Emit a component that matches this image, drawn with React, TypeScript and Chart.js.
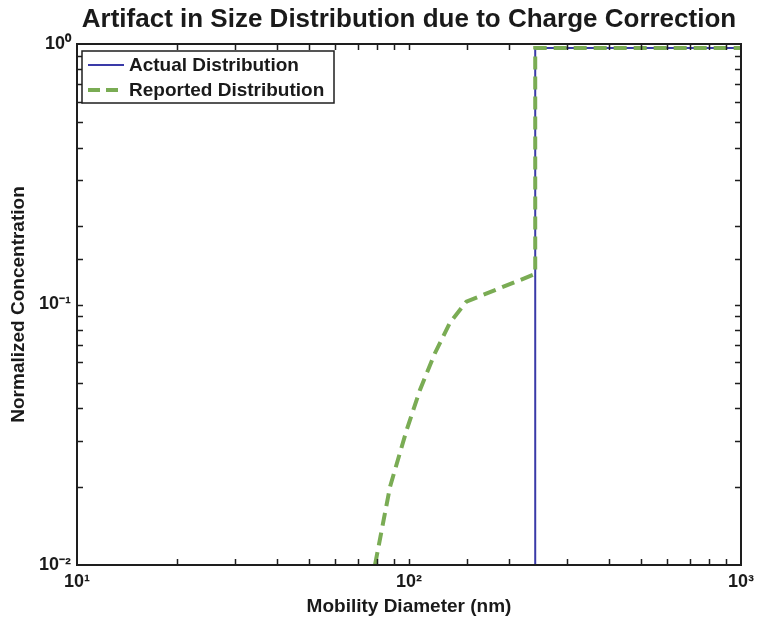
import React, { useEffect, useRef } from "react";
import { Chart, registerables } from "chart.js";

Chart.register(...registerables);

const titleText = "Artifact in Size Distribution due to Charge Correction";
const xLabel = "Mobility Diameter (nm)";
const yLabel = "Normalized Concentration";
const seriesNames = ["Actual Distribution", "Reported Distribution"];

const actualX = [240, 240, 1000];
const actualY = [0.01, 0.965, 0.965];

const reportedX = [79, 87.7, 98.4, 107.9, 119.7, 132.8, 148.9, 240, 240, 1000];
const reportedY = [0.01, 0.02, 0.033, 0.047, 0.065, 0.085, 0.1026, 0.131, 0.965, 0.965];

const xMin = 10;
const xMax = 1000;
const yMin = 0.01;
const yMax = 1;

const SUP: Record<string, string> = {
  "0": "\u2070", "1": "\u00B9", "2": "\u00B2", "3": "\u00B3", "4": "\u2074",
  "5": "\u2075", "6": "\u2076", "7": "\u2077", "8": "\u2078", "9": "\u2079", "-": "\u207B",
};
const sup = (n: number) => String(n).split("").map((c) => SUP[c] || c).join("");
const decadeLabel = (v: number) => {
  const l = Math.log10(v);
  return Math.abs(l - Math.round(l)) < 1e-6 ? "10" + sup(Math.round(l)) : "";
};

const FONT = "'Liberation Sans', Arial, Helvetica, sans-serif";
const BLUE = "rgb(58,58,168)";
const GREEN = "rgb(122,172,84)";

const framePlugin = {
  id: "frame",
  afterDatasetsDraw(chart: any) {
    const { ctx, chartArea: a, scales } = chart;
    ctx.save();
    ctx.strokeStyle = "#1e1e1e";
    ctx.lineWidth = 1.5;
    const tl = 6;
    ctx.beginPath();
    scales.x.ticks.forEach((t: any) => {
      const px = Math.round(scales.x.getPixelForValue(t.value)) + 0.5;
      if (px <= a.left + 1 || px >= a.right - 1) return;
      ctx.moveTo(px, a.bottom);
      ctx.lineTo(px, a.bottom - tl);
      ctx.moveTo(px, a.top);
      ctx.lineTo(px, a.top + tl);
    });
    scales.y.ticks.forEach((t: any) => {
      const py = Math.round(scales.y.getPixelForValue(t.value)) + 0.5;
      if (py <= a.top + 1 || py >= a.bottom - 1) return;
      ctx.moveTo(a.left, py);
      ctx.lineTo(a.left + tl, py);
      ctx.moveTo(a.right, py);
      ctx.lineTo(a.right - tl, py);
    });
    ctx.stroke();
    ctx.lineWidth = 2;
    ctx.strokeRect(a.left, a.top, a.right - a.left, a.bottom - a.top);
    ctx.restore();
  },
};

const legendPlugin = {
  id: "boxLegend",
  afterDraw(chart: any) {
    const { ctx, chartArea: a } = chart;
    const x0 = a.left + 5;
    const y0 = a.top + 7;
    const w = 252;
    const h = 52;
    ctx.save();
    ctx.fillStyle = "#fff";
    ctx.fillRect(x0, y0, w, h);
    ctx.strokeStyle = "#1e1e1e";
    ctx.lineWidth = 1.5;
    ctx.strokeRect(x0, y0, w, h);
    const rows = [
      { name: seriesNames[0], color: BLUE, width: 2, dash: [] as number[] },
      { name: seriesNames[1], color: GREEN, width: 4, dash: [12, 6] },
    ];
    rows.forEach((r, i) => {
      const cy = y0 + 14 + i * 25;
      ctx.strokeStyle = r.color;
      ctx.lineWidth = r.width;
      ctx.setLineDash(r.dash);
      ctx.beginPath();
      ctx.moveTo(x0 + 6, cy);
      ctx.lineTo(x0 + 42, cy);
      ctx.stroke();
      ctx.setLineDash([]);
      ctx.fillStyle = "#1a1a1a";
      ctx.font = `bold 19px ${FONT}`;
      ctx.textBaseline = "middle";
      ctx.textAlign = "left";
      ctx.fillText(r.name, x0 + 47, cy + 1);
    });
    ctx.restore();
  },
};

export default function App() {
  const ref = useRef<HTMLCanvasElement>(null);
  useEffect(() => {
    if (!ref.current) return;
    const chart = new Chart(ref.current, {
      type: "line",
      data: {
        datasets: [
          {
            label: seriesNames[0],
            data: actualX.map((x, i) => ({ x, y: actualY[i] })),
            borderColor: BLUE,
            borderWidth: 2,
            pointRadius: 0,
            tension: 0,
            fill: false,
            order: 1,
          },
          {
            label: seriesNames[1],
            data: reportedX.map((x, i) => ({ x, y: reportedY[i] })),
            borderColor: GREEN,
            borderWidth: 4,
            borderDash: [13, 7],
            pointRadius: 0,
            tension: 0,
            fill: false,
            order: 0,
          },
        ],
      },
      options: {
        animation: false,
        responsive: false,
        devicePixelRatio: 1,
        layout: { padding: { left: 0, right: 17, top: 0, bottom: 0 } },
        plugins: {
          legend: { display: false },
          tooltip: { enabled: false },
          title: {
            display: true,
            text: titleText,
            fullSize: false,
            color: "#1a1a1a",
            font: { family: FONT, size: 26, weight: "bold", lineHeight: 1.2 },
            padding: { top: 4.4, bottom: 8.4 },
          },
        },
        scales: {
          x: {
            type: "logarithmic",
            min: xMin,
            max: xMax,
            afterFit: (s: any) => { s.height = 57; },
            grid: { display: true, drawOnChartArea: false, drawTicks: false },
            border: { display: false },
            ticks: {
              autoSkip: false,
              maxRotation: 0,
              padding: 6,
              color: "#1a1a1a",
              font: { family: FONT, size: 18, weight: "bold" },
              callback: (v: any) => decadeLabel(Number(v)),
            },
            title: {
              display: true,
              text: xLabel,
              color: "#1a1a1a",
              font: { family: FONT, size: 19, weight: "bold", lineHeight: 1.2 },
              padding: { top: 0, bottom: 3.6 },
            },
          },
          y: {
            type: "logarithmic",
            min: yMin,
            max: yMax,
            afterFit: (s: any) => { s.width = 77; },
            grid: { display: true, drawOnChartArea: false, drawTicks: false },
            border: { display: false },
            ticks: {
              autoSkip: false,
              padding: 6,
              color: "#1a1a1a",
              font: { family: FONT, size: 18, weight: "bold" },
              callback: (v: any) => decadeLabel(Number(v)),
            },
            title: {
              display: true,
              text: yLabel,
              color: "#1a1a1a",
              font: { family: FONT, size: 19, weight: "bold", lineHeight: 1.2 },
              padding: { top: 7.6, bottom: 0 },
            },
          },
        },
      },
      plugins: [framePlugin, legendPlugin],
    } as any);
    return () => chart.destroy();
  }, []);
  return (
    <div style={{ position: "fixed", left: 0, top: 0, width: 760, height: 622, background: "#fff" }}>
      <canvas ref={ref} width={760} height={622} style={{ display: "block" }} />
    </div>
  );
}
